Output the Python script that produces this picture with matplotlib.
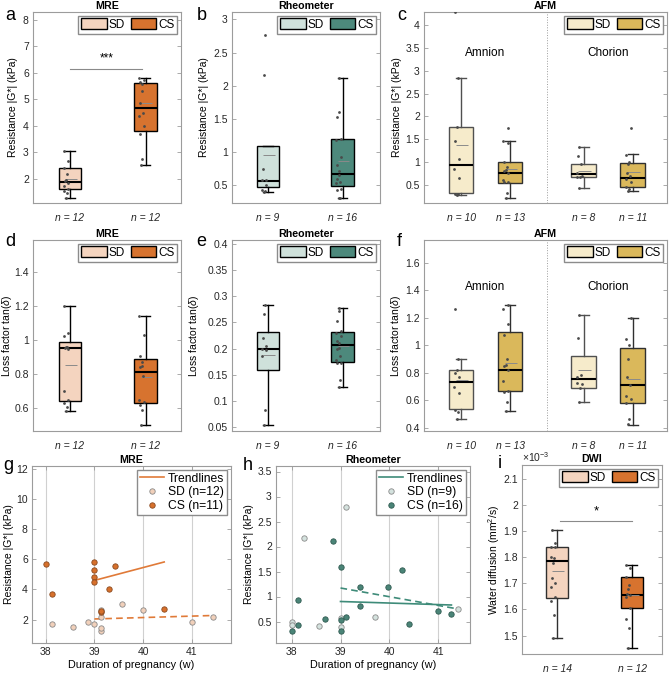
import matplotlib
matplotlib.use('Agg')
import matplotlib.pyplot as plt
import numpy as np
from matplotlib.patches import Patch
from matplotlib.lines import Line2D
from matplotlib.ticker import FormatStrFormatter, FuncFormatter

plt.rcParams['font.family'] = ['Liberation Sans', 'DejaVu Sans']
plt.rcParams['font.size'] = 7.5
plt.rcParams['mathtext.fontset'] = 'custom'
plt.rcParams['mathtext.rm'] = 'Liberation Sans'
plt.rcParams['mathtext.it'] = 'Liberation Sans:italic'

FS_TICK = 7.5
FS_LAB = 7.5
FS_TITLE = 7.7
FS_LEG = 8.5
FS_SLEG = 8.7
FS_LET = 13

# ---------------- colours ----------------
MRE_SD, MRE_CS = '#F4D4BF', '#D7732F'
RHEO_SD, RHEO_CS = '#CFE1DB', '#4D897C'
AFM_SD, AFM_CS = '#F6EBCB', '#DAB85B'

# ---------------- data ----------------
# box stats: [whislo, q1, median, q3, whishi, mean]
# a  MRE |G*|
mre_g_sd_box = [1.28, 1.62, 1.87, 2.42, 3.04, 2.00]
mre_g_cs_box = [2.52, 3.82, 4.67, 5.62, 5.80, 4.87]
mre_g_sd_pts = [1.28, 1.47, 1.52, 1.62, 1.74, 1.85, 1.90, 1.95, 2.18, 2.40, 2.67, 3.04]
mre_g_cs_pts = [2.52, 2.73, 3.67, 3.99, 4.35, 4.48, 4.87, 5.31, 5.58, 5.65, 5.72, 5.80]
# b  Rheometer |G*|
rheo_g_sd_box = [0.40, 0.475, 0.565, 1.095, 1.095, 0.96]
rheo_g_cs_box = [0.315, 0.485, 0.675, 1.20, 2.11, 0.865]
rheo_g_sd_pts = [0.40, 0.41, 0.43, 0.51, 0.575, 0.58, 0.74, 2.16, 2.77]
rheo_g_cs_pts = [0.31, 0.31, 0.43, 0.45, 0.53, 0.55, 0.60, 0.65, 0.71, 0.81, 0.93, 1.19, 1.20, 1.53, 1.60, 2.11]
# c  AFM |G*|  (Amnion SD, Amnion CS, Chorion SD, Chorion CS)
afm_g_box = [[0.27, 0.31, 0.93, 1.765, 2.85, 1.38],
             [0.213, 0.534, 0.763, 0.995, 1.45, 0.85],
             [0.43, 0.66, 0.73, 0.945, 1.33, 0.81],
             [0.374, 0.454, 0.645, 0.967, 1.165, 0.777]]
afm_g_pts = [[0.27, 0.30, 0.30, 0.65, 0.85, 1.07, 1.45, 1.76, 2.85, 4.28],
             [0.21, 0.31, 0.55, 0.55, 0.60, 0.75, 0.80, 0.82, 0.90, 1.00, 1.42, 1.45, 1.74],
             [0.43, 0.66, 0.68, 0.70, 0.76, 0.95, 1.14, 1.33],
             [0.37, 0.40, 0.45, 0.55, 0.62, 0.70, 0.75, 0.95, 1.00, 1.16, 1.75]]
# d  MRE tan(delta)
mre_t_sd_box = [0.583, 0.643, 0.954, 0.99, 1.20, 0.855]
mre_t_cs_box = [0.501, 0.633, 0.816, 0.891, 1.144, 0.785]
mre_t_sd_pts = [0.583, 0.606, 0.633, 0.647, 0.70, 0.95, 0.955, 0.96, 0.96, 1.025, 1.04, 1.20]
mre_t_cs_pts = [0.50, 0.588, 0.62, 0.635, 0.65, 0.788, 0.84, 0.85, 0.874, 0.91, 1.03, 1.144]
# e  Rheometer tan(delta)
rheo_t_sd_box = [0.0535, 0.159, 0.200, 0.231, 0.283, 0.188]
rheo_t_cs_box = [0.126, 0.174, 0.207, 0.231, 0.277, 0.205]
rheo_t_sd_pts = [0.0535, 0.083, 0.185, 0.198, 0.200, 0.205, 0.220, 0.267, 0.283]
rheo_t_cs_pts = [0.126, 0.140, 0.172, 0.173, 0.178, 0.186, 0.200, 0.201, 0.211, 0.215,
                 0.224, 0.229, 0.233, 0.253, 0.271, 0.277]
# f  AFM tan(delta)
afm_t_box = [[0.46, 0.535, 0.731, 0.818, 0.90, 0.745],
             [0.522, 0.663, 0.818, 1.092, 1.293, 0.869],
             [0.583, 0.69, 0.75, 0.92, 1.221, 0.816],
             [0.418, 0.576, 0.707, 0.976, 1.20, 0.755]]
afm_t_pts = [[0.46, 0.515, 0.527, 0.653, 0.697, 0.765, 0.794, 0.818, 0.90, 1.26],
             [0.522, 0.588, 0.66, 0.663, 0.738, 0.818, 0.848, 0.855, 0.90, 1.073, 1.155, 1.262, 1.293],
             [0.583, 0.69, 0.721, 0.72, 0.77, 0.784, 1.051, 1.221],
             [0.425, 0.464, 0.576, 0.605, 0.629, 0.707, 0.767, 0.898, 1.002, 1.041, 1.20]]
# i  DWI (x 1e-3 mm^2/s)
dwi_sd_box = [1.492, 1.645, 1.786, 1.839, 1.905, 1.747]
dwi_cs_box = [1.451, 1.605, 1.657, 1.726, 1.772, 1.655]
dwi_sd_pts = [1.492, 1.579, 1.634, 1.649, 1.688, 1.70, 1.72, 1.778, 1.797, 1.80, 1.84, 1.84, 1.857, 1.905]
dwi_cs_pts = [1.451, 1.528, 1.563, 1.605, 1.649, 1.655, 1.66, 1.68, 1.694, 1.726, 1.758, 1.77]

# g  MRE scatter
g_sd_w = [38.14, 38.57, 38.86, 39.0, 39.14, 39.14, 39.14, 39.14, 39.57, 40.0, 41.0, 41.43]
g_sd_v = [1.75, 1.55, 1.85, 1.70, 1.25, 1.45, 2.15, 2.62, 3.05, 2.65, 1.85, 2.15]
g_cs_w = [38.0, 38.14, 39.0, 39.0, 39.0, 39.0, 39.14, 39.29, 39.43, 40.43, 39.14]
g_cs_v = [5.70, 3.70, 5.80, 5.30, 4.85, 4.48, 2.50, 4.00, 5.57, 2.73, 2.60]
g_trend_cs = ([39.0, 40.43], [4.60, 5.82])
g_trend_sd = ([39.0, 41.43], [2.05, 2.28])
# h  Rheometer scatter
h_sd_w = [38.0, 38.0, 38.26, 38.55, 39.0, 39.0, 39.12, 39.7, 41.41]
h_sd_v = [0.50, 0.43, 2.17, 0.41, 0.57, 0.40, 2.79, 0.59, 0.75]
h_cs_w = [38.0, 38.12, 38.12, 38.69, 38.84, 39.0, 39.0, 39.0, 39.12, 39.4, 39.4, 39.98, 40.26, 40.41, 40.99, 41.27]
h_cs_v = [0.31, 0.93, 0.43, 0.55, 2.12, 1.60, 0.53, 0.31, 0.60, 1.20, 0.81, 1.19, 1.53, 0.45, 0.71, 0.65]
h_trend_cs = ([39.0, 41.27], [0.90, 0.83])
h_trend_sd = ([39.0, 41.41], [1.17, 0.75])

# ---------------- figure ----------------
W, H = 669, 675
fig = plt.figure(figsize=(W / 100, H / 100), dpi=100)

SPINE = '#9c9c9c'
TXT = '#262626'


def add_ax(l, t, r, b):
    ax = fig.add_axes([l / W, 1 - b / H, (r - l) / W, (b - t) / H])
    ax._px = (l, r)
    for s in ax.spines.values():
        s.set_color(SPINE)
        s.set_linewidth(0.8)
    ax.tick_params(direction='in', length=3, width=0.6, color=SPINE, labelcolor=TXT,
                   labelsize=FS_TICK, right=True, top=False, pad=3)
    ax.yaxis.set_major_formatter(FuncFormatter(lambda v, p: ('%g' % round(v, 6))))
    return ax


def jitter(n):
    return -0.06 + 0.035 * np.sin(np.arange(n) * 2.7)


def draw_box(ax, pos, st, pts, face, edge='black', width=0.3, capw=0.13, medc='black'):
    d = dict(whislo=st[0], q1=st[1], med=st[2], q3=st[3], whishi=st[4], mean=st[5], fliers=[])
    ax.bxp([d], positions=[pos], widths=width, patch_artist=True, showfliers=False,
           showmeans=False, capwidths=capw,
           boxprops=dict(facecolor=face, edgecolor=edge, linewidth=1.0),
           medianprops=dict(color=medc, linewidth=1.5),
           whiskerprops=dict(color=edge, linewidth=1.0),
           capprops=dict(color=edge, linewidth=1.0))
    ax.hlines(st[5], pos - width * 0.22, pos + width * 0.3, color='#8a8a8a', lw=0.7, zorder=4)
    ax.scatter(pos + jitter(len(pts)) * width / 0.3 * 0.9, pts, s=4, color='#4a4a4a', zorder=5, linewidths=0)


def box_legend(ax, sd, cs, edge='black'):
    h = [Patch(facecolor=sd, edgecolor=edge, linewidth=1), Patch(facecolor=cs, edgecolor=edge, linewidth=1)]
    ax.legend(h, ['SD', 'CS'], ncol=2, loc='upper right', fontsize=FS_LEG, handlelength=2.2,
              handleheight=0.95, columnspacing=0.45, handletextpad=0.15, borderpad=0.25,
              borderaxespad=0.3, fancybox=False, edgecolor='#8c8c8c', framealpha=1)


def ns_labels(ax, positions, ns):
    ax.set_xticks(positions)
    ax.set_xticklabels(['n = %d' % n for n in ns], fontstyle='italic', fontsize=FS_TICK)
    ax.tick_params(axis='x', length=0, pad=7)


def title(ax, s):
    ax.set_title(s, fontsize=FS_TITLE, fontweight='bold', pad=2)


def ylab(ax, s, xc):
    ax.set_ylabel(s, fontsize=FS_LAB)
    l, r = ax._px
    ax.yaxis.set_label_coords((xc - l) / (r - l), 0.5)
    ax.yaxis.label.set_va('center')


# ---- a ----
ax = add_ax(33, 12, 181, 203)
draw_box(ax, 1, mre_g_sd_box, mre_g_sd_pts, MRE_SD)
draw_box(ax, 2, mre_g_cs_box, mre_g_cs_pts, MRE_CS)
ax.set_xlim(0.51, 2.47)
ax.set_ylim(1.08, 8.3)
ax.set_yticks(np.arange(2, 8.5, 1))
ns_labels(ax, [1, 2], [len(mre_g_sd_pts), len(mre_g_cs_pts)])
ylab(ax, 'Resistance |G*| (kPa)', 13)
ax.plot([1, 1.96], [6.15, 6.15], color='#8a8a8a', lw=0.8)
ax.text(1.48, 6.3, '***', ha='center', va='bottom', fontsize=8.5)
box_legend(ax, MRE_SD, MRE_CS)
title(ax, 'MRE')

# ---- b ----
ax = add_ax(232, 12, 380, 203)
draw_box(ax, 1, rheo_g_sd_box, rheo_g_sd_pts, RHEO_SD)
draw_box(ax, 2, rheo_g_cs_box, rheo_g_cs_pts, RHEO_CS)
ax.set_xlim(0.52, 2.5)
ax.set_ylim(0.235, 3.11)
ax.set_yticks(np.arange(0.5, 3.01, 0.5))
ns_labels(ax, [1, 2], [len(rheo_g_sd_pts), len(rheo_g_cs_pts)])
ylab(ax, 'Resistance |G*| (kPa)', 204)
box_legend(ax, RHEO_SD, RHEO_CS)
title(ax, 'Rheometer')

# ---- c ----
afm_pos = [1, 2, 3.5, 4.5]
afm_cols = [AFM_SD, AFM_CS, AFM_SD, AFM_CS]
afm_edges = ['#505050', '#303030', '#505050', '#303030']
ax = add_ax(424, 12, 667, 203)
for p, st, pts, c, e in zip(afm_pos, afm_g_box, afm_g_pts, afm_cols, afm_edges):
    draw_box(ax, p, st, pts, c, edge=e, width=0.5, capw=0.2)
ax.axvline(2.75, color='#9c9c9c', lw=0.7, ls=':')
ax.set_xlim(0.245, 5.2)
ax.set_ylim(0.1, 4.29)
ax.set_yticks(np.arange(0.5, 4.01, 0.5))
ns_labels(ax, afm_pos, [len(p) for p in afm_g_pts])
ylab(ax, 'Resistance |G*| (kPa)', 397)
ax.text(1.5, 3.38, 'Amnion', ha='center', va='center', fontsize=8.5)
ax.text(4.0, 3.38, 'Chorion', ha='center', va='center', fontsize=8.5)
box_legend(ax, AFM_SD, AFM_CS)
title(ax, 'AFM')

# ---- d ----
ax = add_ax(33, 240, 181, 431)
draw_box(ax, 1, mre_t_sd_box, mre_t_sd_pts, MRE_SD)
draw_box(ax, 2, mre_t_cs_box, mre_t_cs_pts, MRE_CS)
ax.set_xlim(0.51, 2.47)
ax.set_ylim(0.466, 1.59)
ax.set_yticks(np.arange(0.6, 1.41, 0.2))
ns_labels(ax, [1, 2], [len(mre_t_sd_pts), len(mre_t_cs_pts)])
ylab(ax, r'Loss factor tan($\delta$)', 7)
box_legend(ax, MRE_SD, MRE_CS)
title(ax, 'MRE')

# ---- e ----
ax = add_ax(232, 240, 380, 431)
draw_box(ax, 1, rheo_t_sd_box, rheo_t_sd_pts, RHEO_SD)
draw_box(ax, 2, rheo_t_cs_box, rheo_t_cs_pts, RHEO_CS)
ax.set_xlim(0.52, 2.5)
ax.set_ylim(0.042, 0.408)
ax.set_yticks(np.arange(0.05, 0.401, 0.05))
ns_labels(ax, [1, 2], [len(rheo_t_sd_pts), len(rheo_t_cs_pts)])
ylab(ax, r'Loss factor tan($\delta$)', 194)
box_legend(ax, RHEO_SD, RHEO_CS)
title(ax, 'Rheometer')

# ---- f ----
ax = add_ax(424, 240, 667, 431)
for p, st, pts, c, e in zip(afm_pos, afm_t_box, afm_t_pts, afm_cols, afm_edges):
    draw_box(ax, p, st, pts, c, edge=e, width=0.5, capw=0.2)
ax.axvline(2.75, color='#9c9c9c', lw=0.7, ls=':')
ax.set_xlim(0.245, 5.2)
ax.set_ylim(0.375, 1.764)
ax.set_yticks(np.arange(0.4, 1.61, 0.2))
ns_labels(ax, afm_pos, [len(p) for p in afm_t_pts])
ylab(ax, r'Loss factor tan($\delta$)', 396)
ax.text(1.5, 1.42, 'Amnion', ha='center', va='center', fontsize=8.5)
ax.text(4.0, 1.42, 'Chorion', ha='center', va='center', fontsize=8.5)
box_legend(ax, AFM_SD, AFM_CS)
title(ax, 'AFM')


# ---- g / h scatter ----
def scatter_panel(ax, sd_w, sd_v, cs_w, cs_v, tr_cs, tr_sd, sd_c, cs_c, cs_edge, line_c, xc):
    ax.grid(axis='x', color='#d0d0d0', lw=0.8)
    ax.set_axisbelow(True)
    ax.plot(tr_cs[0], tr_cs[1], color=line_c, lw=1.2, zorder=2)
    ax.plot(tr_sd[0], tr_sd[1], color=line_c, lw=1.2, ls='--', dashes=(4, 2.5), zorder=2)
    ax.scatter(sd_w, sd_v, s=15, facecolor=sd_c, edgecolor='#8a8a8a', linewidths=0.6, zorder=3)
    ax.scatter(cs_w, cs_v, s=15, facecolor=cs_c, edgecolor=cs_edge, linewidths=0.6, zorder=3)
    h = [Line2D([], [], color=line_c, lw=1.2),
         Line2D([], [], ls='', marker='o', ms=3.9, mfc=sd_c, mec='#8a8a8a', mew=0.6),
         Line2D([], [], ls='', marker='o', ms=3.9, mfc=cs_c, mec=cs_edge, mew=0.6)]
    ax.legend(h, ['Trendlines', 'SD (n=%d)' % len(sd_v), 'CS (n=%d)' % len(cs_v)],
              loc='upper right', fontsize=FS_SLEG, handlelength=2.0, handletextpad=0.3,
              borderpad=0.25, borderaxespad=0.3, labelspacing=0.15, fancybox=False,
              edgecolor='#8c8c8c', framealpha=1)
    ax.set_xticks([38, 39, 40, 41])
    ax.xaxis.set_major_formatter(FormatStrFormatter('%d'))
    ax.tick_params(axis='x', top=True)
    ax.set_xlabel('Duration of pregnancy (w)', fontsize=FS_LAB + 0.3, labelpad=2)
    ylab(ax, 'Resistance |G*| (kPa)', xc)


ax = add_ax(32, 466, 231, 643)
scatter_panel(ax, g_sd_w, g_sd_v, g_cs_w, g_cs_v, g_trend_cs, g_trend_sd,
              '#F1D0BA', '#D7702B', '#8a4a20', '#E07A38', 9)
ax.set_xlim(37.72, 41.8)
ax.set_ylim(0.46, 12.17)
ax.set_yticks(np.arange(2, 12.1, 2))
title(ax, 'MRE')

ax = add_ax(276, 466, 470, 643)
scatter_panel(ax, h_sd_w, h_sd_v, h_cs_w, h_cs_v, h_trend_cs, h_trend_sd,
              '#D4E2DE', '#4A8477', '#2f5a50', '#3E8B79', 249)
ax.set_xlim(37.68, 41.65)
ax.set_ylim(0.07, 3.61)
ax.set_yticks(np.arange(0.5, 3.51, 0.5))
title(ax, 'Rheometer')

# ---- i ----
ax = add_ax(522, 465, 662, 654)
draw_box(ax, 1, dwi_sd_box, dwi_sd_pts, MRE_SD, edge='#303030')
draw_box(ax, 2, dwi_cs_box, dwi_cs_pts, MRE_CS)
ax.set_xlim(0.53, 2.4)
ax.set_ylim(1.429, 2.155)
ax.set_yticks(np.arange(1.5, 2.11, 0.1))
ns_labels(ax, [1, 2], [len(dwi_sd_pts), len(dwi_cs_pts)])
ylab(ax, 'Water diffusion (mm$^2$/s)', 494)
ax.plot([1.04, 2.0], [1.941, 1.941], color='#8a8a8a', lw=0.8)
ax.text(1.52, 1.955, '*', ha='center', va='bottom', fontsize=9.5)
ax.text(0.0, 1.005, r'$\times$10$^{-3}$', transform=ax.transAxes, ha='left', va='bottom',
        fontsize=FS_TICK, color=TXT)
box_legend(ax, MRE_SD, MRE_CS)
title(ax, 'DWI')

# ---- panel letters ----
for lt, x, y in [('a', 5, 15), ('b', 197, 15), ('c', 397, 15), ('d', 5, 242), ('e', 196, 242),
                 ('f', 397, 242), ('g', 3, 466), ('h', 243, 466), ('i', 498, 464)]:
    fig.text(x / W, 1 - y / H, lt, fontsize=FS_LET, ha='left', va='center')

fig.savefig('out.png', dpi=100)
